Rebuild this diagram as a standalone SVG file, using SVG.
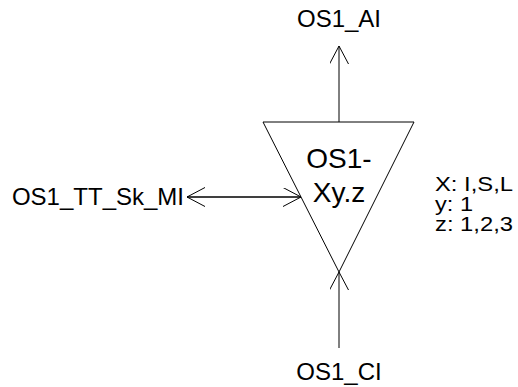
<svg xmlns="http://www.w3.org/2000/svg" width="518" height="387" viewBox="0 0 518 387">
<style>
text{font-family:"Liberation Sans",Arial,sans-serif;font-size:24px;fill:#000}
text.big{font-size:28px}
text.leg{font-size:21px}
.ln{stroke:#000;stroke-width:1;fill:none}
</style>
<defs>
<marker id="ah" markerWidth="20" markerHeight="20" refX="18" refY="9.5" orient="auto" markerUnits="userSpaceOnUse">
<path d="M0,0 L18,9.5 L0,19" fill="none" stroke="#000" stroke-width="1"/>
</marker>
</defs>
<rect width="518" height="387" fill="#fff"/>
<g id="node-triangle">
<polygon class="ln" points="263,122 414,122 339,272"/>
<text class="big" x="339" y="168" text-anchor="middle">OS1-</text>
<text class="big" x="339" y="202" text-anchor="middle">Xy.z</text>
</g>
<g id="node-legend">
<text class="leg" x="435" y="191" textLength="78" lengthAdjust="spacingAndGlyphs">X: I,S,L</text>
<text class="leg" x="435" y="211" textLength="38" lengthAdjust="spacingAndGlyphs">y: 1</text>
<text class="leg" x="435" y="231" textLength="78" lengthAdjust="spacingAndGlyphs">z: 1,2,3</text>
</g>
<g id="node-ai"><text x="339" y="27" text-anchor="middle">OS1_AI</text></g>
<g id="node-mi"><text x="184" y="205" text-anchor="end">OS1_TT_Sk_MI</text></g>
<g id="node-ci"><text x="339" y="380" text-anchor="middle">OS1_CI</text></g>
<g id="connectors">
<line class="ln" x1="339" y1="122" x2="339" y2="46" marker-end="url(#ah)"/>
<line class="ln" x1="301" y1="197" x2="187" y2="197" marker-end="url(#ah)"/>
<line class="ln" x1="187" y1="197" x2="301" y2="197" marker-end="url(#ah)"/>
<line class="ln" x1="339" y1="348" x2="339" y2="272" marker-end="url(#ah)"/>
</g>
</svg>
